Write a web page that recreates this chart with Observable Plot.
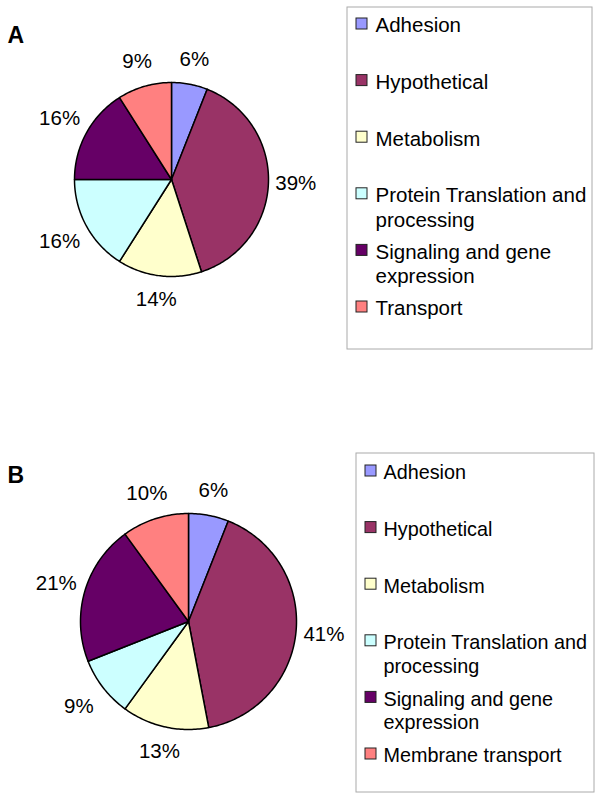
<!DOCTYPE html>
<html>
<head>
<meta charset="utf-8">
<script src="https://cdn.jsdelivr.net/npm/d3@7"></script>
<script src="https://cdn.jsdelivr.net/npm/@observablehq/plot@0.6"></script>
<style>
  body { margin: 0; background: #fff; }
  #chart svg { display: block; }
</style>
</head>
<body>
<div id="chart"></div>
<script>
// ---- data ----
const categories = ["Adhesion", "Hypothetical", "Metabolism", "Protein Translation and processing", "Signaling and gene expression", "Transport"];
const categoriesB = ["Adhesion", "Hypothetical", "Metabolism", "Protein Translation and processing", "Signaling and gene expression", "Membrane transport"];
const legendLabelsA = ["Adhesion", "Hypothetical", "Metabolism", "Protein Translation and\nprocessing", "Signaling and gene\nexpression", "Transport"];
const legendLabelsB = ["Adhesion", "Hypothetical", "Metabolism", "Protein Translation and\nprocessing", "Signaling and gene\nexpression", "Membrane transport"];
const sliceColors = ["#9999FF", "#993366", "#FFFFCC", "#CCFFFF", "#660066", "#FF8080"];
const valuesA = [6, 39, 14, 16, 16, 9];
const valuesB = [6, 41, 13, 9, 21, 10];
const panelLetters = ["A", "B"];

const FONT = "'Liberation Sans', Arial, Helvetica, sans-serif";
const W = 601, H = 400;

function panel(letter, cats, labels, values, cfg) {
  const arcs = d3.pie().sort(null).startAngle(0).endAngle(2 * Math.PI)(values);
  const pts = (a, r) => [cfg.cx + r * Math.sin(a), cfg.cy - r * Math.cos(a)];
  // slice polygons
  const slicePts = [];
  arcs.forEach((arc, i) => {
    const key = cats[i];
    const c = sliceColors[i];
    slicePts.push({key, c, p: pts(0, 0)});
    const n = Math.max(2, Math.ceil((arc.endAngle - arc.startAngle) / (Math.PI / 180)));
    for (let k = 0; k <= n; k++) {
      const a = arc.startAngle + (arc.endAngle - arc.startAngle) * k / n;
      slicePts.push({key, c, p: pts(a, cfg.r)});
    }
    slicePts.push({key, c, p: pts(0, 0)});
  });
  // percent labels
  const pct = arcs.map((arc, i) => {
    const a = (arc.startAngle + arc.endAngle) / 2;
    const off = 10 + Math.abs(Math.sin(a)) * 17 + Math.abs(Math.cos(a)) * 12;
    const [x, y] = pts(a, cfg.r + off);
    return {x, y, t: values[i] + "%"};
  });
  // legend rows
  const rows = labels.map((l, i) => ({
    label: l,
    c: sliceColors[i],
    base: cfg.legBase + i * cfg.legStep
  }));

  return Plot.plot({
    width: W, height: H,
    margin: 0,
    x: {domain: [0, W], range: [0, W], axis: null},
    y: {domain: [0, H], range: [0, H], axis: null},
    color: {type: "identity"},
    style: {fontFamily: FONT, background: "#fff"},
    marks: [
      // legend box
      Plot.rect([cfg.box], {x1: d => d[0], y1: d => d[1], x2: d => d[2], y2: d => d[3], fill: "none", stroke: "#aaaaaa", strokeWidth: 1}),
      // slices
      Plot.line(slicePts, {x: d => d.p[0], y: d => d.p[1], z: "key", fill: "c", stroke: "#000", strokeWidth: 1.5, strokeLinejoin: "round", curve: "linear"}),
      // percent labels
      Plot.text(pct, {x: "x", y: "y", text: "t", fontSize: 20.5, fill: "#000", textAnchor: "middle", lineAnchor: "middle"}),
      // legend swatches
      Plot.rect(rows, {x1: cfg.swX, x2: cfg.swX + 11, y1: d => d.base - 11, y2: d => d.base, fill: "c", stroke: "#222", strokeWidth: 1}),
      // legend text
      Plot.text(rows, {x: cfg.txX, y: d => d.base - cfg.legFont * 0.71, text: "label", fontSize: cfg.legFont, fill: "#000", textAnchor: "start", lineAnchor: "top", lineHeight: 1.2}),
      // panel letter
      Plot.text([letter], {x: 7, y: cfg.letterY, text: d => d, fontSize: 23, fontWeight: "bold", fill: "#000", textAnchor: "start", lineAnchor: "top"})
    ]
  });
}

const chart = document.getElementById("chart");
chart.append(panel(panelLetters[0], categories, legendLabelsA, valuesA, {
  cx: 171, cy: 179, r: 97,
  box: [347, 7, 592, 349],
  swX: 356, txX: 375, legBase: 29, legStep: 56.6, legFont: 20.5,
  letterY: 26
}));
chart.append(panel(panelLetters[1], categoriesB, legendLabelsB, valuesB, {
  cx: 188, cy: 221, r: 108,
  box: [356, 53, 594, 392],
  swX: 365, txX: 383, legBase: 76, legStep: 56.6, legFont: 19.8,
  letterY: 66
}));
</script>
</body>
</html>
